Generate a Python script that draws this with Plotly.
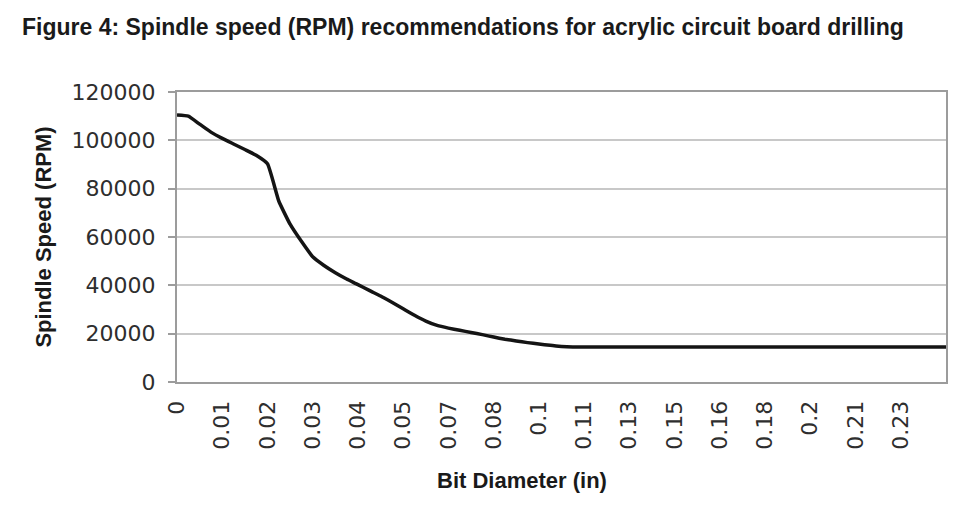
"""Spindle speed vs bit diameter - acrylic circuit board drilling"""

import plotly.graph_objects as go

# x-axis labels, one every LABEL_STEP categories
tick_labels = ["0", "0.01", "0.02", "0.03", "0.04", "0.05", "0.07", "0.08", "0.1",
               "0.11", "0.13", "0.15", "0.16", "0.18", "0.2", "0.21", "0.23"]
LABEL_STEP = 4

# spindle speed (RPM) per category
rpm = [
    110500, 110000, 106700, 103400, 100800, 98500, 96200, 93800,
    90300, 74900, 65300, 58200, 51800, 48200, 45200, 42600,
    40300, 37900, 35600, 33000, 30300, 27600, 25200, 23400,
    22300, 21400, 20500, 19600, 18600, 17700, 17000, 16300,
    15700, 15200, 14700, 14500, 14500, 14500, 14500, 14500,
    14500, 14500, 14500, 14500, 14500, 14500, 14500, 14500,
    14500, 14500, 14500, 14500, 14500, 14500, 14500, 14500,
    14500, 14500, 14500, 14500, 14500, 14500, 14500, 14500,
    14500, 14500, 14500, 14500, 14500,
]

# the page body has an 8px margin, so the figure is sized to fit inside it
W, H = 948, 508
M = {'l': 169, 'r': 8, 't': 84, 'b': 134}
PLOT_W = W - M['l'] - M['r']
PLOT_H = H - M['t'] - M['b']

TICK_FONT = {'family': 'DejaVu Sans', 'size': 22, 'color': '#2e2e2e'}
LABEL_FONT = {'family': 'Liberation Sans, Arial', 'size': 22, 'color': '#1a1a1a'}
BORDER = '#9c9c9c'

x = list(range(len(rpm)))

fig = go.Figure(go.Scatter(
    x=x,
    y=rpm,
    mode='lines',
    line=dict(color='#141414', width=3.5, shape='spline', smoothing=0.4),
    hoverinfo='y',
))

fig.update_layout(
    width=W,
    height=H,
    margin=M,
    plot_bgcolor='#FFFFFF',
    paper_bgcolor='#FFFFFF',
    showlegend=False,
    title=dict(
        text='<b>Figure 4: Spindle speed (RPM) recommendations for acrylic circuit board drilling</b>',
        font={'family': 'Liberation Sans, Arial', 'size': 23, 'color': '#1a1a1a'},
        x=14 / W, xanchor='left', xref='container',
        y=1 - 19 / H, yanchor='middle', yref='container',
    ),
    xaxis=dict(
        range=[0, len(rpm) - 1],
        tickmode='array',
        tickvals=x[::LABEL_STEP][:len(tick_labels)],
        ticktext=tick_labels,
        tickangle=-90,
        tickfont=TICK_FONT,
        ticks='',
        ticklabelstandoff=8,
        showgrid=False,
        zeroline=False,
        showline=True, mirror=True, linecolor=BORDER, linewidth=2,
    ),
    yaxis=dict(
        range=[0, 120000],
        dtick=20000,
        tickformat='d',
        tickfont=TICK_FONT,
        ticks='outside', ticklen=7, tickwidth=2, tickcolor=BORDER,
        ticklabelstandoff=8,
        showgrid=True, gridcolor='#c8c8c8', gridwidth=2,
        zeroline=False,
        showline=True, mirror=True, linecolor=BORDER, linewidth=2,
        title=dict(
            text='<b>Spindle Speed (RPM)</b>',
            font=LABEL_FONT,
            standoff=14,
        ),
    ),
    annotations=[dict(
        text='<b>Bit Diameter (in)</b>',
        font=LABEL_FONT,
        xref='paper', yref='paper',
        x=(515 - M['l']) / PLOT_W, y=-(472 - (H - M['b'])) / PLOT_H,
        xanchor='center', yanchor='middle', showarrow=False,
    )],
)

fig.write_html("out.html")
